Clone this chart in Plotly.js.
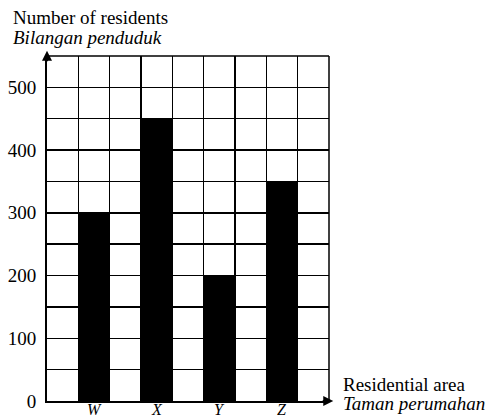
<!DOCTYPE html>
<html>
<head>
<meta charset="utf-8">
<script src="https://cdn.plot.ly/plotly-3.0.1.min.js"></script>
<style>html,body{margin:0;padding:0;background:#fff;}#chart{width:492px;height:418px;}</style>
</head>
<body>
<div id="chart"></div>
<script>
const categories = ["W", "X", "Y", "Z"];
const residents = [300, 450, 200, 350];
const yTickVals = [0, 100, 200, 300, 400, 500];
const yTitleEn = "Number of residents";
const yTitleMs = "Bilangan penduduk";
const xTitleEn = "Residential area";
const xTitleMs = "Taman perumahan";

const positions = categories.map((c, i) => i);
const serif = "Liberation Serif, Times New Roman, serif";

const trace = {
  type: "bar",
  x: positions,
  y: residents,
  width: 0.5,
  marker: {color: "#000000", line: {width: 0}},
  hoverinfo: "skip"
};

const catLabels = categories.map((c, i) => ({
  xref: "x", yref: "paper", x: positions[i], y: -0.026, xanchor: "center", yanchor: "middle",
  borderpad: 0, showarrow: false, text: "<i>" + c + "</i>", font: {family: serif, size: 16, color: "#000"}
}));

function label(text, x, y, italic) {
  return {xref: "paper", yref: "paper", x: x, y: y, xanchor: "left", yanchor: "middle", showarrow: false,
    borderpad: 0, align: "left", text: italic ? "<i>" + text + "</i>" : text,
    font: {family: serif, size: 19, color: "#000"}};
}

const layout = {
  width: 492, height: 418,
  margin: {l: 47, r: 163, t: 56, b: 17, pad: 0},
  paper_bgcolor: "#ffffff", plot_bgcolor: "#ffffff",
  showlegend: false,
  bargap: 0,
  xaxis: {
    range: [-0.75, 3.75],
    tickmode: "array",
    tickvals: positions,
    showticklabels: false,
    ticks: "",
    showgrid: false,
    zeroline: false,
    showline: true, linecolor: "#000", linewidth: 2,
    automargin: false,
    fixedrange: true,
    minor: {tickmode: "linear", tick0: -0.75, dtick: 0.5, showgrid: true, gridcolor: "#000", gridwidth: 1.5, ticks: ""}
  },
  yaxis: {
    range: [0, 550],
    tickmode: "array",
    tickvals: yTickVals,
    ticks: "",
    showgrid: false,
    zeroline: false,
    showline: true, linecolor: "#000", linewidth: 2,
    tickfont: {family: serif, size: 19, color: "#000"},
    ticklabelstandoff: 5,
    automargin: false,
    fixedrange: true,
    minor: {tickmode: "linear", tick0: 0, dtick: 50, showgrid: true, gridcolor: "#000", gridwidth: 1.5, ticks: ""}
  },
  shapes: [
    {type: "line", xref: "paper", yref: "paper", x0: 1, x1: 1, y0: 0, y1: 1, line: {color: "#000", width: 1.5}},
    {type: "line", xref: "paper", yref: "paper", x0: 0, x1: 1, y0: 1, y1: 1, line: {color: "#000", width: 1.5}}
  ],
  annotations: [
    {xref: "paper", yref: "paper", x: 0, y: 1.015, ax: 0, ay: 12, showarrow: true, arrowhead: 2, arrowsize: 1, arrowwidth: 2, arrowcolor: "#000", text: ""},
    {xref: "paper", yref: "paper", x: 1.015, y: 0, ax: -12, ay: 0, showarrow: true, arrowhead: 2, arrowsize: 1, arrowwidth: 2, arrowcolor: "#000", text: ""},
    label(yTitleEn, -0.125, 1.111, false),
    label(yTitleMs, -0.125, 1.055, true),
    label(xTitleEn, 1.047, 0.048, false),
    label(xTitleMs, 1.047, -0.007, true)
  ].concat(catLabels)
};

Plotly.newPlot("chart", [trace], layout, {displayModeBar: false, staticPlot: true});
</script>
</body>
</html>
